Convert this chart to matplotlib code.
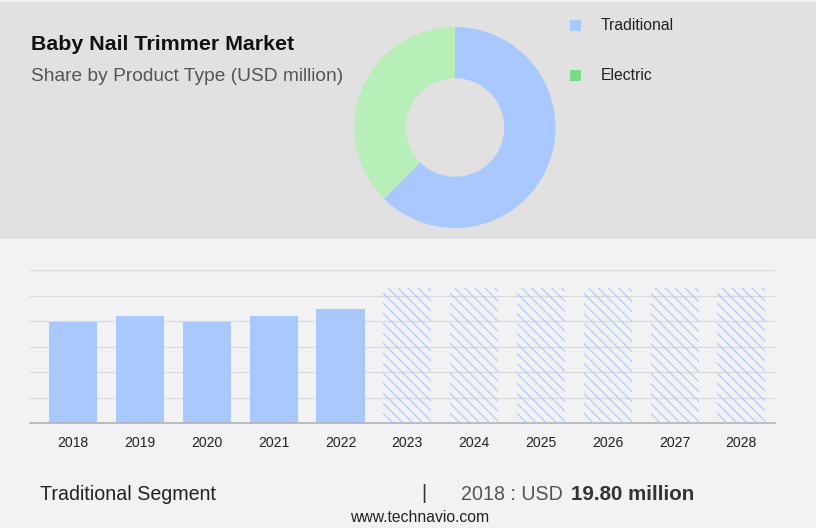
import matplotlib
matplotlib.use('Agg')
import matplotlib.pyplot as plt
from matplotlib.patches import Rectangle
from matplotlib.collections import LineCollection
from matplotlib.transforms import IdentityTransform

# ---------------- data ----------------
years = ['2018', '2019', '2020', '2021', '2022', '2023', '2024', '2025', '2026', '2027', '2028']
values = [19.8, 21.1, 19.9, 21.1, 22.4, 26.6, 26.6, 26.6, 26.6, 26.6, 26.6]
n_actual = 5  # first five years are actuals, rest forecast (hatched)
segments = ['Traditional', 'Electric']
shares = [62.5, 37.5]
donut_colors = ['#a8c8ff', '#b8eeb8']
legend_colors = ['#a8c8ff', '#77dd88']
title = 'Baby Nail Trimmer Market'
subtitle = 'Share by Product Type (USD million)'
footer_segment = 'Traditional Segment'
footer_year_text = '2018 : USD '
footer_value_text = '19.80 million'
source = 'www.technavio.com'

# ---------------- layout helpers ----------------
DPI = 100
W, H = 816, 528
FONT = ['Liberation Sans', 'DejaVu Sans']
plt.rcParams['font.family'] = FONT


def pt(p):
    return p * 72 / DPI


def fx(x):
    return x / W


def fy(y):
    return 1 - y / H


def axrect(l, t, r, b):
    return [l / W, 1 - b / H, (r - l) / W, (b - t) / H]


fig = plt.figure(figsize=(W / DPI, H / DPI), dpi=DPI, facecolor='#f2f2f4')

# top grey panel
fig.patches.append(Rectangle((0, fy(239)), 1, fy(1.5) - fy(239), transform=fig.transFigure,
                             facecolor='#e1e1e1', edgecolor='none', zorder=-5))

# ---------------- titles ----------------
fig.text(fx(31), fy(50), title, fontsize=pt(21.4), fontweight='bold', color='#111111', va='baseline')
fig.text(fx(31), fy(81), subtitle, fontsize=pt(19.2), color='#555555', va='baseline')

# ---------------- donut ----------------
axd = fig.add_axes(axrect(354.5, 27, 555.5, 228))
axd.set_zorder(2)
axd.pie(shares, colors=donut_colors, startangle=90, counterclock=False, radius=1,
        wedgeprops=dict(width=0.51, linewidth=0))
axd.set_xlim(-1, 1)
axd.set_ylim(-1, 1)
axd.set_aspect('equal')
axd.axis('off')

# legend
leg_y = [(20, 30.5), (70, 80.5)]
for (top, base), lab, col in zip(leg_y, segments, legend_colors):
    fig.patches.append(Rectangle((fx(570), fy(top + 10.7)), 10.5 / W, 10.7 / H, transform=fig.transFigure,
                                 facecolor=col, edgecolor='none', zorder=2))
    fig.text(fx(600.5), fy(base), lab, fontsize=pt(15.8), color='#222222', va='baseline')

# ---------------- bar chart ----------------
ax = fig.add_axes(axrect(30, 270.3, 775, 423.3))
ax.set_zorder(2)
ax.set_facecolor('none')
x = list(range(len(years)))
bw = 0.719
ax.bar(x[:n_actual], values[:n_actual], width=bw, color='#a8c8ff', linewidth=0, zorder=2)
fc_bars = ax.bar(x[n_actual:], values[n_actual:], width=bw, facecolor='none', linewidth=0, zorder=2)
ax.set_xlim(-0.648, 10.504)
ax.set_ylim(0, 30)
ax.set_yticks(range(0, 31, 5))
ax.yaxis.grid(True, color='#d9d9d9', linewidth=pt(1.2))
ax.set_axisbelow(True)
ax.tick_params(axis='y', length=0, labelleft=False)
ax.set_xticks(x, years)
ax.tick_params(axis='x', length=0, pad=pt(12.5), labelsize=pt(14), labelcolor='#222222')
for s in ['left', 'right', 'top']:
    ax.spines[s].set_visible(False)
ax.spines['bottom'].set_color('#b0b0b0')
ax.spines['bottom'].set_linewidth(pt(1.6))

# diagonal hatch texture for forecast bars, 10 px spacing, clipped to each bar
HATCH_STEP = 10.0
for patch in fc_bars.patches:
    bb = patch.get_window_extent(renderer=None)
    h = bb.height
    segs = []
    start = bb.x0 - h
    k = 0
    while start + k * HATCH_STEP <= bb.x1 + 1:
        x0 = start + k * HATCH_STEP
        segs.append([(x0, bb.y1), (x0 + h, bb.y0)])
        k += 1
    lc = LineCollection(segs, colors='#a8c8ff', linewidths=pt(1.1), transform=IdentityTransform(),
                        zorder=3)
    ax.add_collection(lc, autolim=False)
    lc.set_clip_path(patch)

# ---------------- footer ----------------
fig.text(fx(40), fy(500), footer_segment, fontsize=pt(19.6), color='#222222', va='baseline')
fig.text(fx(424), fy(493.5), '|', fontsize=pt(19.6), color='#333333', va='center', ha='center')
fig.text(fx(461), fy(500), footer_year_text, fontsize=pt(19.6), color='#555555', va='baseline')
fig.text(fx(571), fy(500), footer_value_text, fontsize=pt(20.5), fontweight='bold', color='#333333',
         va='baseline')
fig.text(fx(420), fy(521.5), source, fontsize=pt(15.7), color='#222222', va='baseline', ha='center')

fig.savefig('out.png', dpi=DPI, facecolor=fig.get_facecolor())
